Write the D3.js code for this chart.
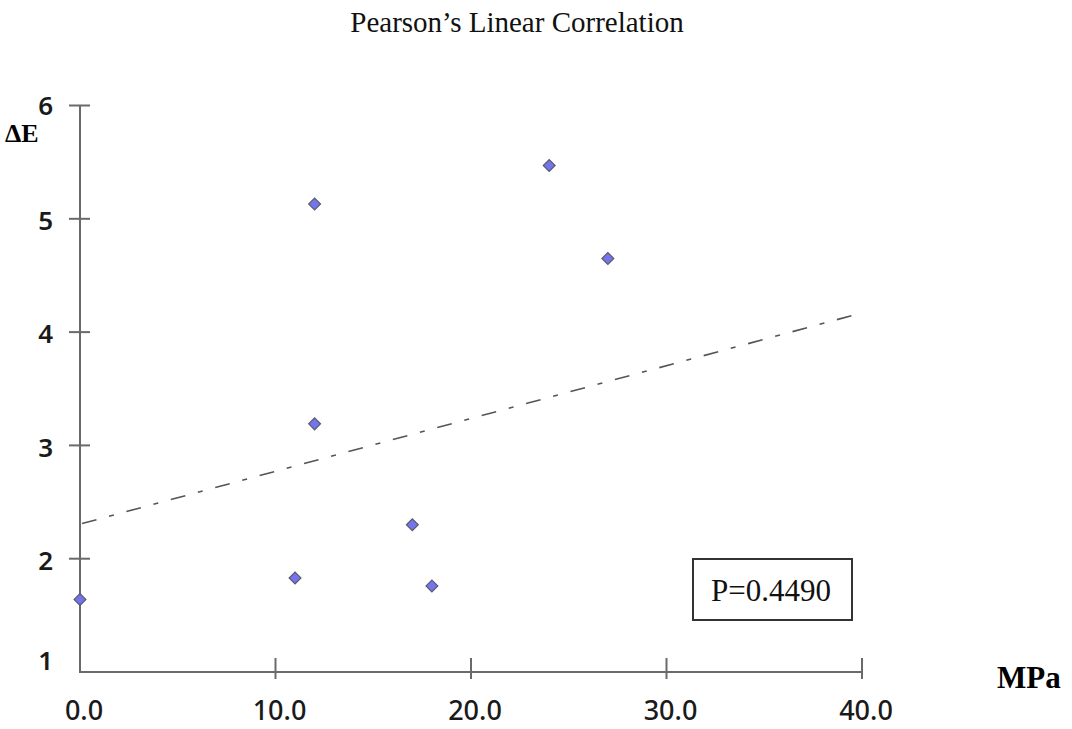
<!DOCTYPE html>
<html>
<head>
<meta charset="utf-8">
<script src="https://cdn.jsdelivr.net/npm/d3@7"></script>
<style>
html,body{margin:0;padding:0;background:#fff;}
svg{display:block;}
</style>
</head>
<body>
<svg id="chart" width="1072" height="729"></svg>
<script>
// ---- data ----
const xValues = [0, 11, 12, 12, 17, 18, 24, 27];
const yValues = [1.64, 1.83, 5.13, 3.19, 2.30, 1.76, 5.47, 4.65];
const xTicks = [0, 10, 20, 30, 40];
const xTickLabels = ["0.0", "10.0", "20.0", "30.0", "40.0"];
const yTicks = [1, 2, 3, 4, 5, 6];
const yTickLabels = ["1", "2", "3", "4", "5", "6"];
const trendX = [0, 40];
const trendY = [2.31, 4.17];
const titleText = "Pearson’s Linear Correlation";
const xTitle = "MPa";
const yTitle = "ΔE";
const pLabel = "P=0.4490";

// ---- layout ----
const svg = d3.select("#chart");
const x = d3.scaleLinear().domain([0, 40]).range([80, 862]);
const y = d3.scaleLinear().domain([1, 6]).range([672, 105.5]);

svg.append("text")
  .attr("x", 517).attr("y", 32)
  .attr("text-anchor", "middle")
  .attr("font-family", "Liberation Serif, serif")
  .attr("font-size", 29)
  .attr("fill", "#111")
  .text(titleText);

const axisColor = "#6a6a6a";

svg.append("line")
  .attr("x1", x(0)).attr("x2", x(0))
  .attr("y1", y(6)).attr("y2", y(1))
  .attr("stroke", axisColor).attr("stroke-width", 2);
svg.append("line")
  .attr("x1", x(0) - 1).attr("x2", x(40))
  .attr("y1", y(1)).attr("y2", y(1))
  .attr("stroke", axisColor).attr("stroke-width", 2);

svg.selectAll(".ytick").data(yTicks.filter(d => d !== 1)).enter()
  .append("line")
  .attr("x1", x(0) - 11).attr("x2", x(0) + 10)
  .attr("y1", d => y(d)).attr("y2", d => y(d))
  .attr("stroke", axisColor).attr("stroke-width", 2);

svg.selectAll(".xtick").data(xTicks.filter(d => d !== 0)).enter()
  .append("line")
  .attr("x1", d => x(d)).attr("x2", d => x(d))
  .attr("y1", y(1) - 14).attr("y2", y(1) + 7)
  .attr("stroke", axisColor).attr("stroke-width", 2);

svg.selectAll(".ylab").data(yTicks).enter()
  .append("text")
  .attr("x", 53)
  .attr("y", (d) => d === 1 ? y(d) - 11 : (d === 6 ? y(d) : y(d) + 2))
  .attr("dy", "0.35em")
  .attr("text-anchor", "end")
  .attr("font-family", "Noto Sans, sans-serif")
  .attr("font-weight", 600)
  .attr("font-size", 26)
  .attr("fill", "#1a1a1a")
  .text((d, i) => yTickLabels[i]);

svg.selectAll(".xlab").data(xTicks).enter()
  .append("text")
  .attr("x", d => x(d) + 4)
  .attr("y", 720)
  .attr("text-anchor", "middle")
  .attr("font-family", "Noto Sans, sans-serif")
  .attr("font-weight", 500)
  .attr("font-size", 27)
  .attr("fill", "#1a1a1a")
  .text((d, i) => xTickLabels[i]);

svg.append("text")
  .attr("x", 5).attr("y", 142)
  .attr("font-family", "Liberation Serif, serif")
  .attr("font-weight", "bold")
  .attr("font-size", 26)
  .attr("fill", "#000")
  .text(yTitle);
svg.append("text")
  .attr("x", 997).attr("y", 688)
  .attr("font-family", "Liberation Serif, serif")
  .attr("font-weight", "bold")
  .attr("font-size", 31)
  .attr("fill", "#000")
  .text(xTitle);

svg.append("line")
  .attr("x1", x(trendX[0]) + 2).attr("x2", x(trendX[1]))
  .attr("y1", y(trendY[0])).attr("y2", y(trendY[1]))
  .attr("stroke", "#555").attr("stroke-width", 1.6)
  .attr("stroke-dasharray", "15,13,5,13");

const pts = xValues.map((v, i) => ({x: v, y: yValues[i]}));
const sym = d3.symbol().type(d3.symbolSquare).size(70);
svg.selectAll(".pt").data(pts).enter()
  .append("path")
  .attr("d", sym)
  .attr("transform", d => `translate(${x(d.x)},${y(d.y)}) rotate(45)`)
  .attr("fill", "#7474ee")
  .attr("stroke", "#5a5a6a")
  .attr("stroke-width", 1.2);

svg.append("rect")
  .attr("x", 693).attr("y", 559)
  .attr("width", 159).attr("height", 61)
  .attr("fill", "#fff")
  .attr("stroke", "#333").attr("stroke-width", 2);
svg.append("text")
  .attr("x", 771).attr("y", 601)
  .attr("text-anchor", "middle")
  .attr("font-family", "Liberation Serif, serif")
  .attr("font-size", 31)
  .attr("fill", "#111")
  .text(pLabel);
</script>
</body>
</html>
